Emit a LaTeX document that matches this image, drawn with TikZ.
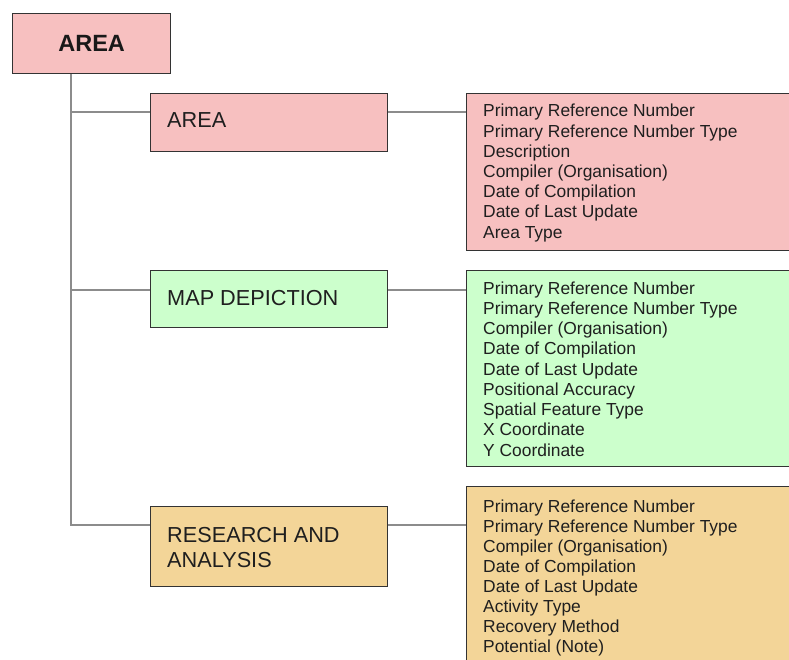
\documentclass[tikz,border=0pt]{standalone}
\usepackage{fontspec}
\setmainfont{Liberation Sans}
\usetikzlibrary{calc}
\definecolor{pinkbox}{HTML}{F7C0C0}
\definecolor{greenbox}{HTML}{CCFFCC}
\definecolor{orangebox}{HTML}{F3D598}
\definecolor{edgecol}{HTML}{333333}
\definecolor{linkcol}{HTML}{8C8C8C}
\tikzset{
  boxbase/.style={draw=edgecol, line width=1.3pt, inner sep=0pt, anchor=north west},
  headtext/.style={font=\fontsize{21.7}{25}\selectfont, anchor=base west, inner sep=0pt, text=black!88},
  listtext/.style={font=\fontsize{17.4}{20}\selectfont, anchor=base west, inner sep=0pt, text=black!88},
  link/.style={draw=linkcol, line width=1.8pt}
}
\begin{document}
\begin{tikzpicture}[x=1pt,y=1pt]
\useasboundingbox (0,0) rectangle (789,-660);
\clip (0,0) rectangle (789,-660);
% top box
\node[boxbase, fill=pinkbox, minimum width=158, minimum height=60] (main) at (12,-13) {};
\node[font=\bfseries\fontsize{23.5}{28}\selectfont, inner sep=0pt, text=black!90] (maint) at (main.center) {AREA};
% sub boxes
\node[boxbase, fill=pinkbox, minimum width=237, minimum height=58] (abox) at (150,-93) {};
\node[boxbase, fill=greenbox, minimum width=237, minimum height=57] (mbox) at (150,-270) {};
\node[boxbase, fill=orangebox, minimum width=237, minimum height=80] (rbox) at (150,-506) {};
\node[headtext] (at) at (167,-128) {AREA};
\node[headtext] (mt) at (167,-305) {MAP DEPICTION};
\node[headtext] (rt1) at (167,-542) {RESEARCH AND};
\node[headtext] (rt2) at (167,-567) {ANALYSIS};
% attribute boxes
\node[boxbase, fill=pinkbox, minimum width=340, minimum height=157] (pbox) at (466,-93) {};
\node[boxbase, fill=greenbox, minimum width=340, minimum height=196] (gbox) at (466,-270) {};
\node[boxbase, fill=orangebox, minimum width=340, minimum height=190] (obox) at (466,-486) {};
% attribute lists
\foreach \t [count=\i from 0] in {Primary Reference Number, Primary Reference Number Type, Description, Compiler (Organisation), Date of Compilation, Date of Last Update, Area Type}
  \node[listtext] (pl\i) at (483,-117-20.2*\i) {\t};
\foreach \t [count=\i from 0] in {Primary Reference Number, Primary Reference Number Type, Compiler (Organisation), Date of Compilation, Date of Last Update, Positional Accuracy, Spatial Feature Type, X Coordinate, Y Coordinate}
  \node[listtext] (gl\i) at (483,-294-20.25*\i) {\t};
\foreach \t [count=\i from 0] in {Primary Reference Number, Primary Reference Number Type, Compiler (Organisation), Date of Compilation, Date of Last Update, Activity Type, Recovery Method, Potential (Note)}
  \node[listtext] (ol\i) at (483,-512-20.05*\i) {\t};
% connectors
\coordinate (trunk) at (71,0);
\coordinate (aw) at ($(abox.north west)+(0,-19)$);
\coordinate (mw) at ($(mbox.north west)+(0,-20)$);
\coordinate (rw) at ($(rbox.north west)+(0,-19)$);
\coordinate (ae) at ($(abox.north east)+(0,-19)$);
\coordinate (me) at ($(mbox.north east)+(0,-20)$);
\coordinate (re) at ($(rbox.north east)+(0,-19)$);
\draw[link] (main.south -| trunk) |- (rw);
\draw[link] (trunk |- aw) -- (aw);
\draw[link] (trunk |- mw) -- (mw);
\draw[link] (ae) -- (ae -| pbox.west);
\draw[link] (me) -- (me -| gbox.west);
\draw[link] (re) -- (re -| obox.west);
\end{tikzpicture}
\end{document}
